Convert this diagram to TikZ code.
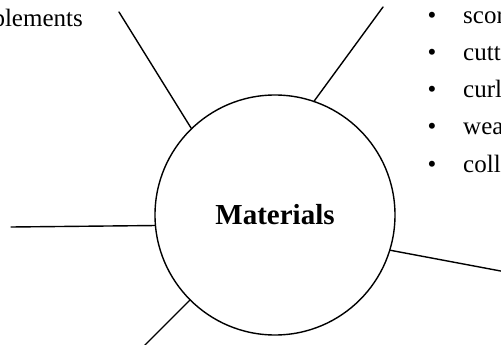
\documentclass[tikz,border=0pt]{standalone}
\usepackage{fontspec}
\setmainfont{Liberation Serif}
\begin{document}
\begin{tikzpicture}[x=1pt,y=-1pt,
  spoke/.style={line width=1.4pt, line cap=round},
  hub/.style={circle, draw, line width=1.4pt, minimum size=240pt, inner sep=0pt,
    font=\fontsize{29}{35}\selectfont\bfseries},
  item/.style={anchor=base west, inner sep=0pt, font=\fontsize{25}{30}\selectfont},
  dot/.style={anchor=base, inner sep=0pt, font=\fontsize{25}{30}\selectfont}]
\useasboundingbox (0,0) rectangle (501,345);

% central topic
\node[hub] (c) at (275,215) {Materials};

% free ends of the spokes
\coordinate (ul) at (119,12);
\coordinate (ur) at (383,7);
\coordinate (l)  at (11,227);
\coordinate (ll) at (142,348);
\coordinate (lr) at (506,272);

\draw[spoke] (ul) -- (c.134);
\draw[spoke] (ur) -- (c.71.7);
\draw[spoke] (l)  -- (c.185.7);
\draw[spoke] (c.225.3) -- (ll);
\draw[spoke] (c.-17.7) -- (lr);

% label at the upper left
\node[anchor=base east, inner sep=0pt, font=\fontsize{25}{30}\selectfont] (imp) at (83,27) {plements};

% bullet list at the upper right
\foreach \t [count=\i] in {scor,cutt,curl,wea,coll} {
  \node[dot]  (b\i) at (432,{24+37*(\i-1)}) {\textbullet};
  \node[item] (t\i) at (463,{24+37*(\i-1)}) {\t};
}
\end{tikzpicture}
\end{document}
